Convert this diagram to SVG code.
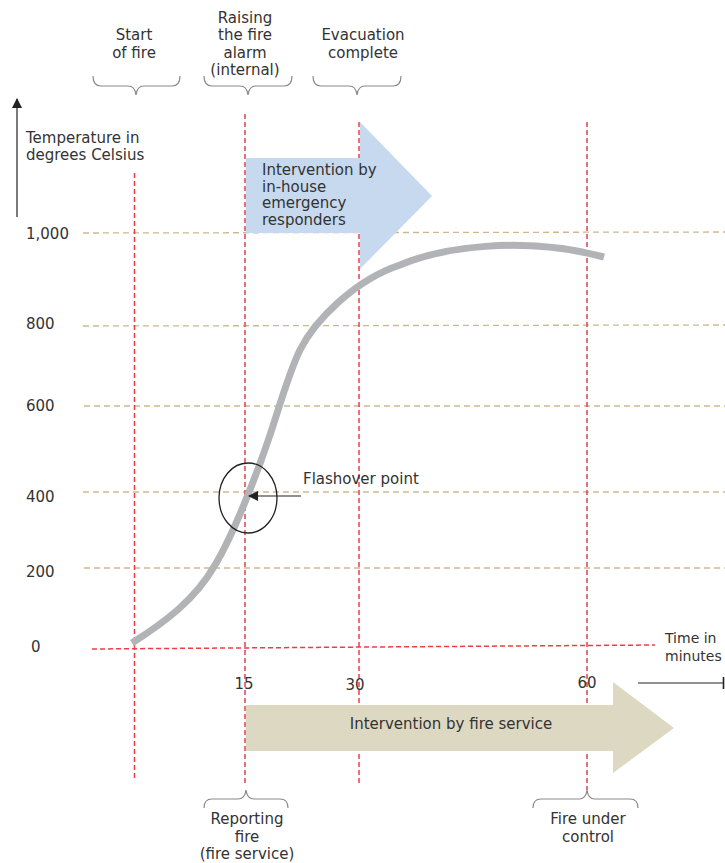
<svg xmlns="http://www.w3.org/2000/svg" width="725" height="863" viewBox="0 0 725 863">
<defs>
<style>
.t{font-family:"DejaVu Sans",Verdana,sans-serif;font-size:15px;fill:#333}
.s{font-size:14px}
.c{text-anchor:middle}
.red{stroke:#ee3d48;stroke-width:1.5;stroke-dasharray:5,3;fill:none}
.tan{stroke:#c9bb8e;stroke-width:1.3;stroke-dasharray:6,4;fill:none}
.brace{stroke:#8a8a8a;stroke-width:1.2;fill:none}
.ax{stroke:#222;stroke-width:1.2;fill:none}
</style>
<marker id="ah" markerWidth="10" markerHeight="10" refX="9" refY="5" orient="auto" markerUnits="userSpaceOnUse">
<path d="M0,0 L10,5 L0,10 Z" fill="#222"/>
</marker>
</defs>
<rect width="725" height="863" fill="#fff"/>

<g id="grid">
<line class="tan" x1="83" y1="233" x2="725" y2="232"/>
<line class="tan" x1="83" y1="326" x2="725" y2="325"/>
<line class="tan" x1="84" y1="406" x2="725" y2="406"/>
<line class="tan" x1="83" y1="492" x2="725" y2="492"/>
<line class="tan" x1="84" y1="568" x2="725" y2="568"/>
<line class="red" x1="92" y1="649" x2="655" y2="645"/>
<line class="red" x1="134.5" y1="173" x2="134.5" y2="781"/>
<line class="red" x1="245" y1="114" x2="245" y2="784"/>
<line class="red" x1="359" y1="122" x2="359" y2="785"/>
<line class="red" x1="587" y1="122" x2="587" y2="790"/>
</g>

<g id="axes">
<line class="ax" x1="17" y1="217" x2="17" y2="99" marker-end="url(#ah)"/>
<line class="ax" x1="638" y1="683" x2="723" y2="683"/>
<line x1="723.5" y1="677" x2="723.5" y2="689" stroke="#222" stroke-width="1.6"/>
<text class="t" x="26" y="143">Temperature in</text>
<text class="t" x="26" y="160">degrees Celsius</text>
<text class="t" x="26" y="239">1,000</text>
<text class="t" x="26" y="329">800</text>
<text class="t" x="26" y="411">600</text>
<text class="t" x="26" y="502">400</text>
<text class="t" x="26" y="577">200</text>
<text class="t" x="31" y="652">0</text>
<text class="t c" x="244" y="689">15</text>
<text class="t c" x="355" y="690">30</text>
<text class="t c" x="587" y="688">60</text>
<text class="t s" x="665" y="643">Time in</text>
<text class="t s" x="665" y="661">minutes</text>
</g>

<g id="inhouse-arrow">
<polygon points="246,158 360,158 360,122 432,196 360,269 360,233 246,233" fill="#c6d9ef"/>
<text class="t" x="262" y="175">Intervention by</text>
<text class="t" x="262" y="191.5">in-house</text>
<text class="t" x="262" y="208">emergency</text>
<text class="t" x="262" y="224.5">responders</text>
</g>

<g id="fireservice-arrow">
<polygon points="246,705 613,705 613,682 674,728 613,773 613,751 246,751" fill="#dcd8c2"/>
<text class="t c" x="451" y="729">Intervention by fire service</text>
</g>

<g id="curve">
<path d="M132,643 C165,622 195,600 215,565 C232,537 255,480 270,435 C283,395 290,370 300,350 C315,320 355,280 400,265 C440,248 520,235 604,257" fill="none" stroke="#b2b3b6" stroke-width="7"/>
</g>

<g id="flashover">
<ellipse cx="248" cy="498" rx="29" ry="35" fill="none" stroke="#222" stroke-width="1.3"/>
<line class="ax" x1="301" y1="496" x2="249" y2="496" marker-end="url(#ah)"/>
<text class="t" x="303" y="484">Flashover point</text>
</g>

<g id="start-of-fire">
<path class="brace" d="M93,76 Q93,86 101,86 L128,86 Q135,86 136,95 Q137,86 144,86 L172,86 Q180,86 180,76"/>
<text class="t c" x="134" y="40">Start</text>
<text class="t c" x="134" y="57.5">of fire</text>
</g>

<g id="raising-alarm">
<path class="brace" d="M204,76 Q204,86 212,86 L240,86 Q247,86 248,95 Q249,86 256,86 L284,86 Q292,86 292,76"/>
<text class="t c" x="245" y="22.5">Raising</text>
<text class="t c" x="245" y="40">the fire</text>
<text class="t c" x="245" y="57.5">alarm</text>
<text class="t c" x="245" y="75">(internal)</text>
</g>

<g id="evacuation">
<path class="brace" d="M313,76 Q313,86 321,86 L349,86 Q356,86 357,95 Q358,86 365,86 L393,86 Q401,86 401,76"/>
<text class="t c" x="363" y="40">Evacuation</text>
<text class="t c" x="363" y="57.5">complete</text>
</g>

<g id="reporting-fire">
<path class="brace" d="M204,808 Q204,799 212,799 L238,799 Q245,799 246,790 Q247,799 254,799 L280,799 Q288,799 288,808"/>
<text class="t c" x="247" y="824">Reporting</text>
<text class="t c" x="247" y="842">fire</text>
<text class="t c" x="247" y="859">(fire service)</text>
</g>

<g id="fire-under-control">
<path class="brace" d="M533,808 Q533,799 541,799 L579,799 Q586,799 587,790 Q588,799 595,799 L630,799 Q638,799 638,808"/>
<text class="t c" x="588" y="824">Fire under</text>
<text class="t c" x="588" y="842">control</text>
</g>
</svg>
